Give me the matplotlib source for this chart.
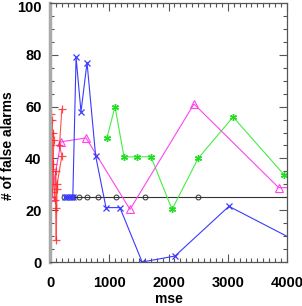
import matplotlib
matplotlib.use("Agg")
import matplotlib.pyplot as plt
import matplotlib.transforms as mtransforms
from matplotlib.ticker import MultipleLocator

plt.rcParams['font.family'] = ['Liberation Sans', 'DejaVu Sans']

# series (mse, # of false alarms)
red_mse = [20, 15, 35, 25, 55, 35, 65, 45, 80, 95, 110, 95, 105, 120, 200, 160, 200]
red_fa = [57, 25, 55, 36, 50, 27, 47, 38, 24, 35, 28, 21, 8.4, 30, 41, 45, 59]

magenta_mse = [17, 186, 608, 1350, 2430, 3860, 4300]
magenta_fa = [25, 46.4, 47.9, 20.3, 61, 28.7, 28.7]

blue_mse = [250, 290, 320, 350, 385, 440, 523, 625, 770, 945, 1180, 1555, 2110, 3020, 4500]
blue_fa = [25, 25, 25, 25, 25, 79, 58, 77, 41, 21, 21, 0, 2.3, 21.5, 4]

green_mse = [962, 1097, 1249, 1468, 1705, 2060, 2500, 3090, 3950, 4300]
green_fa = [48, 60, 40.6, 40.6, 40.6, 20.3, 40, 56, 33.7, 28]

black_mse = [230, 390, 490, 625, 810, 1110, 1600, 2500, 4500]
black_fa = [25, 25, 25, 25, 25, 25, 25, 25, 25]

fig = plt.figure(figsize=(3.02, 3.06), dpi=100)
ax = fig.add_axes([50 / 302, 44 / 306, 237 / 302, 259 / 306])

lw = 0.8
ax.plot(black_mse, black_fa, color='#333333', lw=lw, marker='o', ms=3.5,
        mfc='none', mec='#333333', mew=0.7)
ax.plot(green_mse, green_fa, color='#44ee44', lw=lw, marker=(6, 2, 0), ms=5,
        mec='#22dd22', mew=1.0)
ax.plot(magenta_mse, magenta_fa, color='#ff44ee', lw=lw, marker='^', ms=6,
        mfc='none', mec='#ff44ee', mew=0.8)
ax.plot(blue_mse, blue_fa, color='#3a3aff', lw=lw, marker='x', ms=5,
        mec='#3a3aff', mew=0.9)
ax.plot(red_mse, red_fa, color='#ff2222', lw=lw, marker='+', ms=6,
        mec='#ff2222', mew=0.9, alpha=0.8)

ax.set_xlim(0, 4000)
ax.set_ylim(0, 100)
ax.xaxis.set_major_locator(MultipleLocator(1000))
ax.xaxis.set_minor_locator(MultipleLocator(100))
ax.yaxis.set_major_locator(MultipleLocator(20))
ax.yaxis.set_minor_locator(MultipleLocator(5))
ax.tick_params(which='both', direction='in', top=True, right=True,
               color='#555555', width=0.8)
ax.tick_params(which='major', length=6, labelsize=10.5)
ax.tick_params(axis='x', which='major', pad=10)
ax.tick_params(axis='y', which='major', pad=6)
ax.tick_params(which='minor', length=3)
for lab in ax.get_xticklabels() + ax.get_yticklabels():
    lab.set_fontweight('bold')

# nudge the top label ("100") down a little so it stays inside the figure
fig.canvas.draw()
top_lab = [t for t in ax.get_yticklabels() if t.get_text() == '100']
for t in top_lab:
    t.set_transform(t.get_transform() +
                    mtransforms.ScaledTranslation(0, -3 / 100, fig.dpi_scale_trans))

for side in ['top', 'right', 'bottom']:
    ax.spines[side].set_color('#555555')
    ax.spines[side].set_linewidth(0.9)
ax.spines['left'].set_color('#aaaaaa')
ax.spines['left'].set_linewidth(2.5)

ax.set_xlabel('mse', fontsize=10, fontweight='bold')
ax.xaxis.set_label_coords(0.5, -30 / 259)
ax.set_ylabel('# of false alarms', fontsize=10, fontweight='bold')
ax.yaxis.set_label_coords(-35 / 237, 0.45)

fig.savefig('out.png', dpi=100)
